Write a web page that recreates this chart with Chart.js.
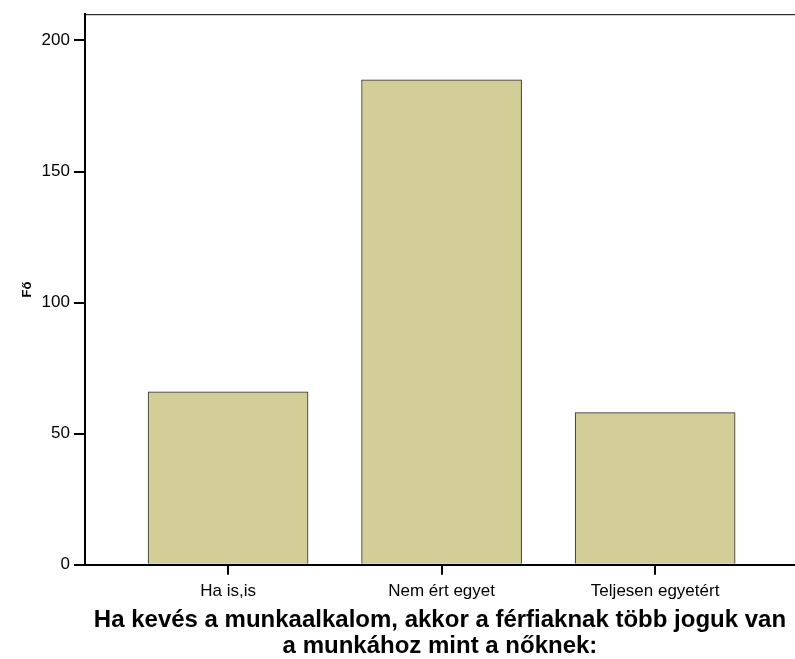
<!DOCTYPE html>
<html>
<head>
<meta charset="utf-8">
<script src="https://cdn.jsdelivr.net/npm/chart.js@4/dist/chart.umd.min.js"></script>
<style>
  html, body { margin: 0; padding: 0; background: #fff; }
  #wrap { position: relative; width: 795px; height: 659px; }
</style>
</head>
<body>
<div id="wrap"><canvas id="c"></canvas></div>
<script>
// values
const categories = ['Ha is,is', 'Nem ért egyet', 'Teljesen egyetért'];
const counts = [66, 185, 58];
const yTicks = [0, 50, 100, 150, 200];
const xTitle = ['Ha kevés a munkaalkalom, akkor a férfiaknak több joguk van', 'a munkához mint a nőknek:'];
const yTitle = 'Fő';

const font = "Arial, 'Liberation Sans', sans-serif";

// thin frame line along the top of the plot area
const topFrame = {
    id: 'topFrame',
    afterDraw(chart) {
        const { ctx, chartArea: a } = chart;
        ctx.save();
        ctx.strokeStyle = '#000';
        ctx.lineWidth = 1;
        ctx.beginPath();
        ctx.moveTo(a.left, a.top + 0.5);
        ctx.lineTo(a.right, a.top + 0.5);
        ctx.stroke();
        ctx.restore();
    },
};

new Chart(document.getElementById('c'), {
    type: 'bar',
    data: {
        datasets: [{
            data: counts.map((v, i) => ({ x: i, y: v })),
            backgroundColor: '#d3ce98',
            borderColor: '#2b2b2b',
            borderWidth: 1,
            barThickness: 160,
        }],
    },
    options: {
        responsive: true, maintainAspectRatio: false, animation: false,
        layout: { padding: { top: 10, right: 0, left: 0, bottom: 0 } },
        plugins: { legend: { display: false }, tooltip: { enabled: false } },
        scales: {
            x: {
                type: 'linear', min: -0.67, max: 2.655, offset: false,
                afterBuildTicks: (ax) => { ax.ticks = categories.map((_, i) => ({ value: i })); },
                ticks: { callback: (v) => categories[v], color: '#000', font: { family: font, size: 17 }, padding: 6, maxRotation: 0, autoSkip: false },
                grid: { offset: false, drawOnChartArea: false, drawTicks: true, tickLength: 10, color: '#000', lineWidth: 2 },
                border: { color: '#000', width: 2 },
                title: { display: true, text: xTitle, color: '#000', font: { family: font, size: 24, weight: 'bold', lineHeight: 1.08 }, padding: { top: 0, bottom: 0 } },
            },
            y: {
                min: 0, max: 210,
                afterBuildTicks: (ax) => { ax.ticks = yTicks.map((v) => ({ value: v })); },
                ticks: { color: '#000', font: { family: font, size: 17 }, padding: 4 },
                grid: { drawOnChartArea: false, drawTicks: true, tickLength: 11, color: '#000', lineWidth: 2 },
                border: { color: '#000', width: 2 },
                title: { display: true, text: yTitle, color: '#000', font: { family: font, size: 13, weight: 'bold' }, padding: { top: 20, bottom: 2 } },
            },
        },
    },
    plugins: [topFrame],
});
</script>
</body>
</html>
